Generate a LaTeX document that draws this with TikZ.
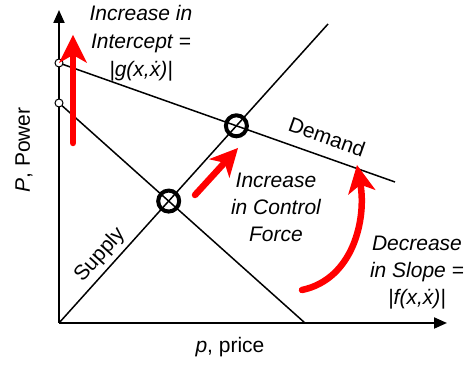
\documentclass[tikz,border=0pt]{standalone}
\usepackage{fontspec}
\setmainfont{Liberation Sans}
\usepackage{tikz}
\usetikzlibrary{calc, arrows.meta}

\tikzset{
    axisline/.style={line width=2pt, -{Triangle[length=13pt, width=11pt]}},
    curveline/.style={line width=1.5pt},
    shiftarrow/.style={red, line width=6.5pt, line cap=round,
        -{Stealth[length=28pt, width=28pt, inset=8pt, line width=0pt]}},
    eqpoint/.style={circle, draw, line width=4pt, minimum size=21pt, inner sep=0pt},
    intpoint/.style={circle, draw, fill=white, line width=1pt, minimum size=8pt, inner sep=0pt},
    txt/.style={font=\fontsize{21}{28}\selectfont, align=center, inner sep=0pt},
}

\begin{document}
\begin{tikzpicture}[x=1pt, y=1pt]
                \useasboundingbox (-59,-43) rectangle (408,323);
                \coordinate (O) at (0,0);
                \coordinate (X) at (388,0);
                \coordinate (Y) at (0,313);
                \coordinate (A) at (0,260);
                \coordinate (B) at (0,220);
                \coordinate (C) at (246,0);
                \coordinate (D) at (336,141);
                \coordinate (S) at (269,299);
                \coordinate (E1) at (intersection of O--S and B--C);
                \coordinate (E2) at (intersection of O--S and A--D);
                % axes and the two curves
                \draw[axisline] (O) -- (X);
                \draw[axisline] (O) -- (Y);
                \draw[curveline] (O) -- (S);
                \draw[curveline] (B) -- (C);
                \draw[curveline] (A) -- (D);
                \node[intpoint] (nA) at (A) {};
                \node[intpoint] (nB) at (B) {};
                \node[eqpoint] (nE1) at (E1) {};
                \node[eqpoint] (nE2) at (E2) {};
                % red shift arrows
                \coordinate (G0) at (14,180);
                \coordinate (G1) at (14,288);
                \coordinate (U0) at (136,128);
                \coordinate (U1) at (179,175);
                \coordinate (F0) at (243,33);
                \coordinate (F1) at (298,158);
                \draw[shiftarrow] (G0) -- (G1);
                \draw[shiftarrow] (U0) -- (U1);
                \draw[shiftarrow] (F0) to[out=12, in=-80] (F1);
                % labels
                \node[txt, rotate=90] (ylab) at (-35,173) {\textit{P}, Power};
                \node[txt] (xlab) at (171,-24) {\textit{p}, price};
                \node[txt, rotate=-19.6] (dem) at (268,186) {Demand};
                \node[txt, rotate=48] (sup) at (41,68) {Supply};
                \node[txt, font=\fontsize{21}{28}\selectfont\itshape] (intc) at (82,280)
                    {Increase in\\Intercept =\\\textbar g(x,\.x)\textbar};
                \node[txt, font=\fontsize{21}{27}\selectfont\itshape] (ctrl) at (217,116)
                    {Increase\\in Control\\Force};
                \node[txt, font=\fontsize{21}{27}\selectfont\itshape] (slp) at (358,50)
                    {Decrease\\in Slope =\\\textbar f(x,\.x)\textbar};
            \end{tikzpicture}
\end{document}
